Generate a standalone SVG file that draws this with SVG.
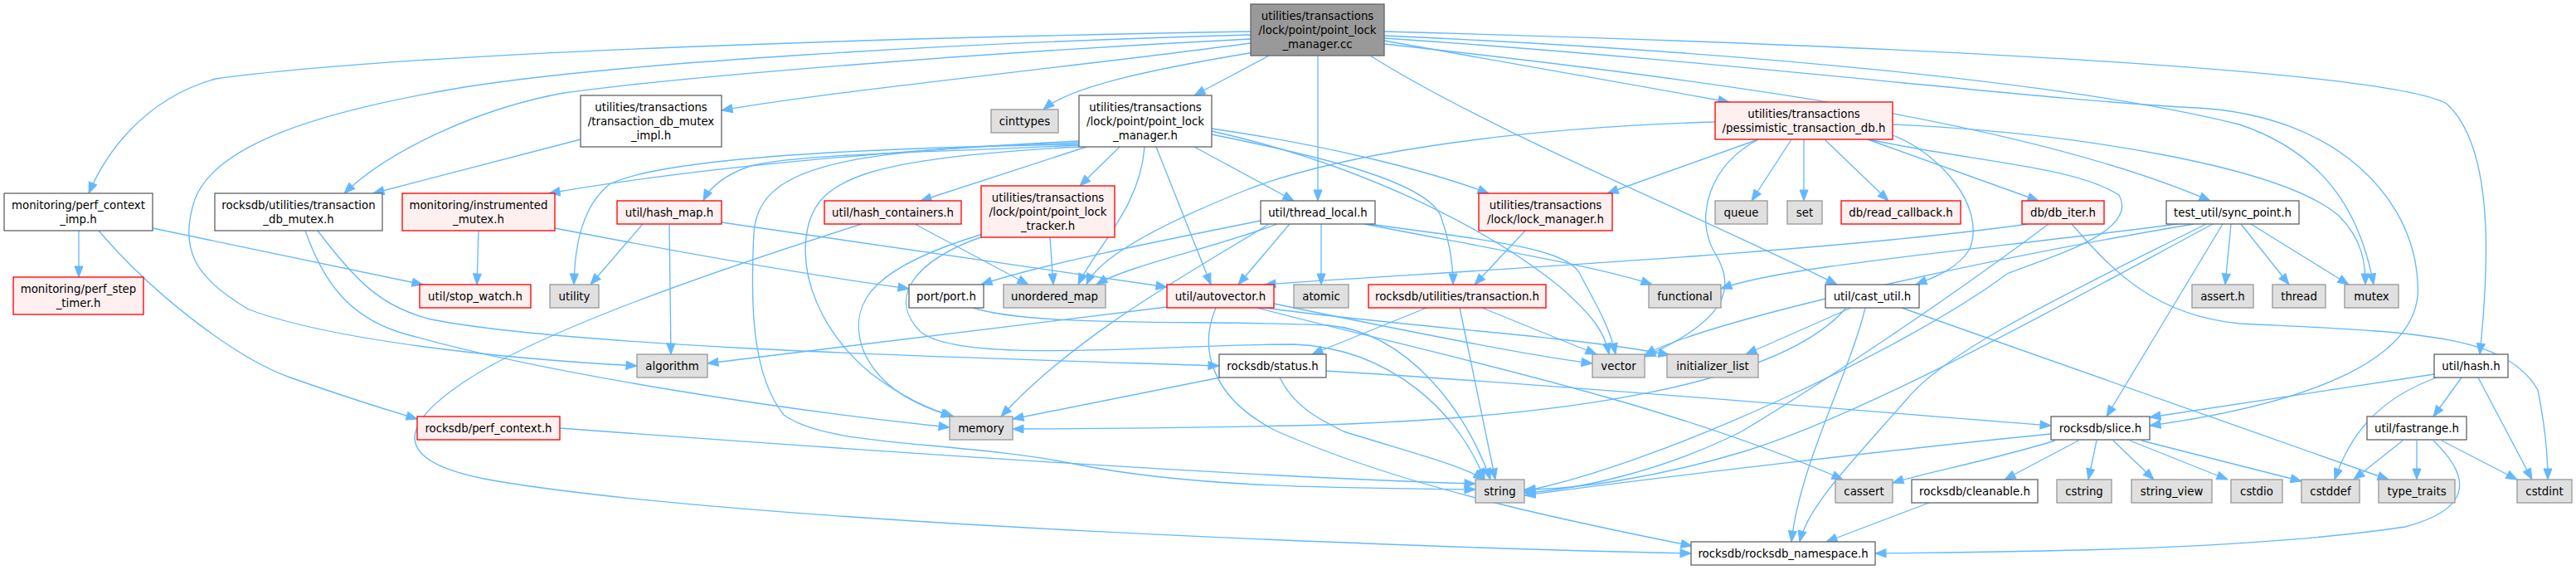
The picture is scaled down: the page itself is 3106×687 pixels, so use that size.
<svg xmlns="http://www.w3.org/2000/svg" width="3106" height="687" viewBox="0 0 3106 687">
<style>
text{font-family:"DejaVu Sans","Liberation Sans",sans-serif;font-size:13.33px;text-anchor:middle;fill:#000}
.w rect{fill:#fff;stroke:#666;stroke-width:1.33}
.r rect{fill:#FFF0F0;stroke:#F00;stroke-width:1.33}
.g rect{fill:#E0E0E0;stroke:#999;stroke-width:1.33}
.m rect{fill:#999;stroke:#666;stroke-width:1.33}
#edges path{fill:none;stroke:#63B8FF;stroke-width:1.33;marker-end:url(#a)}
</style>
<defs>
<marker id="a" markerUnits="userSpaceOnUse" markerWidth="15" markerHeight="12" refX="13" refY="5" orient="auto" overflow="visible">
<path d="M0,0 L13,5 L0,10 z" fill="#63B8FF" stroke="#63B8FF" stroke-width="1"/>
</marker>
</defs>
<rect x="0" y="0" width="3106" height="687" fill="#fff"/>
<g id="edges">
<path d="M1508,38 C1100,45 500,62 260,95 C170,120 125,190 107,233"/>
<path d="M1508,47 C1150,65 800,95 680,112 C580,130 470,180 415,233"/>
<path d="M1508,42 C1150,52 750,75 560,105 C380,135 260,175 235,240 C215,300 235,335 300,373 C400,410 600,432 768,441"/>
<path d="M1508,52 C1300,80 1000,110 870,133"/>
<path d="M1512,63 C1380,85 1290,105 1258,132"/>
<path d="M1530,67 L1440,115"/>
<path d="M1589,67 L1589,242"/>
<path d="M1652,67 C1800,160 2050,260 2215,343"/>
<path d="M1669,49 L2085,123"/>
<path d="M1669,53 C2100,100 2450,150 2665,242"/>
<path d="M1669,38 C2300,55 2880,85 2950,125 C3010,180 3000,330 2990,427"/>
<path d="M1669,43 C2100,62 2500,100 2700,150 C2820,190 2850,280 2862,343"/>
<path d="M1669,46 C2100,75 2450,120 2650,130 C2820,140 2910,240 2915,340 C2925,440 2760,490 2592,513"/>
<path d="M1301,170 C1100,180 850,200 662,233"/>
<path d="M1301,175 C1150,183 960,185 905,200 C870,212 855,228 848,242"/>
<path d="M1301,174 C1050,178 800,190 735,222 C700,250 693,300 692,343"/>
<path d="M1310,177 L1110,242"/>
<path d="M1350,177 L1302,224"/>
<path d="M1301,177 C1050,190 990,215 975,270 C960,330 990,400 1050,450 C1090,480 1120,493 1150,502"/>
<path d="M1301,172 C1000,180 915,205 909,280 C905,360 905,450 945,500 C1000,540 1150,530 1300,560 C1450,590 1650,588 1779,590"/>
<path d="M1380,177 C1375,250 1320,300 1300,343"/>
<path d="M1394,177 L1460,343"/>
<path d="M1440,177 L1560,242"/>
<path d="M1461,162 C1600,190 1720,220 1737,260 C1748,290 1752,320 1752,343"/>
<path d="M1461,155 C1600,175 1720,205 1795,233"/>
<path d="M1461,158 C1650,200 1800,280 1880,345 C1920,380 1935,400 1940,427"/>
<path d="M2120,168 L1938,233"/>
<path d="M2160,168 L2112,242"/>
<path d="M2175,168 L2175,242"/>
<path d="M2200,168 L2277,242"/>
<path d="M2252,168 L2458,242"/>
<path d="M2068,147 C1800,155 1600,190 1500,230 C1400,270 1325,310 1310,343"/>
<path d="M2253,168 C2380,195 2500,200 2555,235 C2580,280 2470,310 2420,330 C2300,420 2000,560 1838,592"/>
<path d="M2120,168 C2060,200 2045,260 2065,300 C2090,340 2095,380 1983,430"/>
<path d="M2282,163 C2340,185 2395,250 2375,300 C2360,325 2330,335 2310,343"/>
<path d="M2282,150 C2500,160 2750,200 2820,260 C2850,290 2852,320 2852,343"/>
<path d="M1520,266 C1400,290 1250,320 1183,343"/>
<path d="M1540,270 C1460,300 1360,320 1322,343"/>
<path d="M1555,270 L1493,343"/>
<path d="M1593,270 L1593,343"/>
<path d="M1645,270 C1800,300 1930,322 1992,343"/>
<path d="M1650,270 C1800,290 1890,300 1905,330 C1920,360 1940,390 1948,427"/>
<path d="M1530,270 C1450,320 1300,400 1207,502"/>
<path d="M807,270 L809,427"/>
<path d="M775,270 L712,343"/>
<path d="M870,268 L1407,346"/>
<path d="M1103,270 L1240,343"/>
<path d="M1039,270 C850,330 650,400 560,460 C470,520 480,560 600,580 C900,630 1700,660 2039,667"/>
<path d="M1185,282 C1060,320 1020,360 1040,420 C1060,470 1110,490 1148,502"/>
<path d="M1185,285 C1100,315 1070,360 1110,400 C1160,440 1400,415 1560,415 C1680,420 1760,500 1790,578"/>
<path d="M1266,286 L1270,343"/>
<path d="M95,278 L95,334"/>
<path d="M184,275 L510,343"/>
<path d="M119,278 C180,350 280,430 350,455 C420,480 470,495 503,505"/>
<path d="M368,278 C390,340 420,380 480,400 C650,450 950,495 1145,515"/>
<path d="M383,278 C430,340 460,370 520,385 C700,420 1200,432 1470,441"/>
<path d="M577,278 L575,343"/>
<path d="M669,275 C850,310 1000,335 1096,348"/>
<path d="M700,168 L450,233"/>
<path d="M1839,278 L1778,343"/>
<path d="M1720,371 L1582,427"/>
<path d="M1760,371 L1803,578"/>
<path d="M1787,371 L1925,427"/>
<path d="M1471,455 L1221,505"/>
<path d="M1543,455 C1560,490 1590,505 1620,520 C1700,545 1760,560 1790,578"/>
<path d="M1599,447 C1900,465 2300,500 2473,513"/>
<path d="M1407,370 C1200,395 1000,420 853,438"/>
<path d="M1516,371 C1700,420 2000,480 2222,578"/>
<path d="M1525,371 C1700,395 1900,405 2013,428"/>
<path d="M1536,366 C1700,400 1850,430 1920,438"/>
<path d="M1466,371 C1445,420 1460,480 1540,520 C1700,590 1900,630 2040,658"/>
<path d="M2226,371 C2150,460 1900,505 1560,513 C1400,516 1300,517 1221,517"/>
<path d="M2232,371 L2105,427"/>
<path d="M2293,371 L2880,578"/>
<path d="M2249,371 C2230,450 2170,560 2160,653"/>
<path d="M1173,371 C1250,395 1450,385 1600,392 C1700,400 1770,500 1797,578"/>
<path d="M2473,523 C2300,540 2000,575 1838,597"/>
<path d="M2478,531 C2400,555 2320,570 2282,582"/>
<path d="M2506,531 L2417,578"/>
<path d="M2528,531 L2518,578"/>
<path d="M2548,531 L2597,578"/>
<path d="M2568,531 L2686,578"/>
<path d="M2582,531 L2775,580"/>
<path d="M2326,606 L2202,653"/>
<path d="M2935,451 L2592,503"/>
<path d="M2938,455 C2870,480 2835,520 2815,578"/>
<path d="M2968,455 L2934,502"/>
<path d="M2988,455 L3053,578"/>
<path d="M2897,531 L2838,578"/>
<path d="M2914,531 L2914,578"/>
<path d="M2944,531 L3035,578"/>
<path d="M2934,531 C2985,580 2975,615 2900,635 C2700,665 2400,665 2261,667"/>
<path d="M2445,270 C2200,305 1700,330 1525,343"/>
<path d="M2470,270 C2350,360 2200,460 2100,520 C2000,570 1900,590 1838,594"/>
<path d="M2498,270 C2550,330 2600,380 2700,390 C2900,400 3020,400 3060,470 C3070,520 3072,550 3072,578"/>
<path d="M2633,269 C2400,300 2150,320 2075,348"/>
<path d="M2645,270 C2350,320 2050,390 1983,428"/>
<path d="M2668,270 C2500,360 2250,500 2100,545 C2000,575 1900,590 1838,590"/>
<path d="M2680,270 L2540,502"/>
<path d="M2690,270 L2683,343"/>
<path d="M2702,270 L2760,343"/>
<path d="M2714,270 L2832,343"/>
<path d="M2660,270 C2500,350 2350,420 2300,480 C2230,560 2180,610 2170,653"/>
<path d="M675,516 C1000,540 1500,575 1779,583"/>
</g>
<g id="n_main" class="m"><rect x="1508" y="5" width="161" height="62"/><text x="1588.5" y="23.8">utilities/transactions</text><text x="1588.5" y="40.8">/lock/point/point_lock</text><text x="1588.5" y="57.8">_manager.cc</text></g>
<g id="n_tdmi" class="w"><rect x="700" y="115" width="170" height="62"/><text x="785" y="133.8">utilities/transactions</text><text x="785" y="150.8">/transaction_db_mutex</text><text x="785" y="167.8">_impl.h</text></g>
<g id="n_cinttypes" class="g"><rect x="1195" y="132" width="81" height="28"/><text x="1235.5" y="150.8">cinttypes</text></g>
<g id="n_plm" class="w"><rect x="1301" y="115" width="160" height="62"/><text x="1381" y="133.8">utilities/transactions</text><text x="1381" y="150.8">/lock/point/point_lock</text><text x="1381" y="167.8">_manager.h</text></g>
<g id="n_ptd" class="r"><rect x="2068" y="123" width="214" height="45"/><text x="2175" y="141.8">utilities/transactions</text><text x="2175" y="158.8">/pessimistic_transaction_db.h</text></g>
<g id="n_pci" class="w"><rect x="5" y="233" width="179" height="45"/><text x="94.5" y="251.8">monitoring/perf_context</text><text x="94.5" y="268.8">_imp.h</text></g>
<g id="n_tdm" class="w"><rect x="259" y="233" width="202" height="45"/><text x="360" y="251.8">rocksdb/utilities/transaction</text><text x="360" y="268.8">_db_mutex.h</text></g>
<g id="n_imx" class="r"><rect x="485" y="233" width="184" height="45"/><text x="577" y="251.8">monitoring/instrumented</text><text x="577" y="268.8">_mutex.h</text></g>
<g id="n_hmap" class="r"><rect x="744" y="242" width="126" height="28"/><text x="807" y="260.8">util/hash_map.h</text></g>
<g id="n_hcont" class="r"><rect x="994" y="242" width="165" height="28"/><text x="1076.5" y="260.8">util/hash_containers.h</text></g>
<g id="n_plt" class="r"><rect x="1183" y="224" width="161" height="62"/><text x="1263.5" y="242.8">utilities/transactions</text><text x="1263.5" y="259.8">/lock/point/point_lock</text><text x="1263.5" y="276.8">_tracker.h</text></g>
<g id="n_tl" class="w"><rect x="1520" y="242" width="138" height="28"/><text x="1589" y="260.8">util/thread_local.h</text></g>
<g id="n_lm" class="r"><rect x="1783" y="233" width="161" height="45"/><text x="1863.5" y="251.8">utilities/transactions</text><text x="1863.5" y="268.8">/lock/lock_manager.h</text></g>
<g id="n_queue" class="g"><rect x="2068" y="242" width="63" height="28"/><text x="2099.5" y="260.8">queue</text></g>
<g id="n_set" class="g"><rect x="2155" y="242" width="42" height="28"/><text x="2176" y="260.8">set</text></g>
<g id="n_rcb" class="r"><rect x="2220" y="242" width="144" height="28"/><text x="2292" y="260.8">db/read_callback.h</text></g>
<g id="n_dbi" class="r"><rect x="2438" y="242" width="99" height="28"/><text x="2487.5" y="260.8">db/db_iter.h</text></g>
<g id="n_sp" class="w"><rect x="2612" y="242" width="160" height="28"/><text x="2692" y="260.8">test_util/sync_point.h</text></g>
<g id="n_pst" class="r"><rect x="16" y="334" width="157" height="45"/><text x="94.5" y="352.8">monitoring/perf_step</text><text x="94.5" y="369.8">_timer.h</text></g>
<g id="n_sw" class="r"><rect x="506" y="343" width="134" height="28"/><text x="573" y="361.8">util/stop_watch.h</text></g>
<g id="n_utility" class="g"><rect x="663" y="343" width="59" height="28"/><text x="692.5" y="361.8">utility</text></g>
<g id="n_port" class="w"><rect x="1096" y="343" width="90" height="28"/><text x="1141" y="361.8">port/port.h</text></g>
<g id="n_umap" class="g"><rect x="1210" y="343" width="123" height="28"/><text x="1271.5" y="361.8">unordered_map</text></g>
<g id="n_av" class="r"><rect x="1407" y="343" width="129" height="28"/><text x="1471.5" y="361.8">util/autovector.h</text></g>
<g id="n_atomic" class="g"><rect x="1560" y="343" width="66" height="28"/><text x="1593" y="361.8">atomic</text></g>
<g id="n_txn" class="r"><rect x="1650" y="343" width="214" height="28"/><text x="1757" y="361.8">rocksdb/utilities/transaction.h</text></g>
<g id="n_functional" class="g"><rect x="1988" y="343" width="87" height="28"/><text x="2031.5" y="361.8">functional</text></g>
<g id="n_cu" class="w"><rect x="2201" y="343" width="113" height="28"/><text x="2257.5" y="361.8">util/cast_util.h</text></g>
<g id="n_asserth" class="g"><rect x="2643" y="343" width="74" height="28"/><text x="2680" y="361.8">assert.h</text></g>
<g id="n_thread" class="g"><rect x="2740" y="343" width="64" height="28"/><text x="2772" y="361.8">thread</text></g>
<g id="n_mutex" class="g"><rect x="2827" y="343" width="65" height="28"/><text x="2859.5" y="361.8">mutex</text></g>
<g id="n_algorithm" class="g"><rect x="768" y="427" width="85" height="28"/><text x="810.5" y="445.8">algorithm</text></g>
<g id="n_status" class="w"><rect x="1470" y="427" width="129" height="28"/><text x="1534.5" y="445.8">rocksdb/status.h</text></g>
<g id="n_vector" class="g"><rect x="1920" y="427" width="63" height="28"/><text x="1951.5" y="445.8">vector</text></g>
<g id="n_il" class="g"><rect x="2010" y="427" width="110" height="28"/><text x="2065" y="445.8">initializer_list</text></g>
<g id="n_hash" class="w"><rect x="2935" y="427" width="89" height="28"/><text x="2979.5" y="445.8">util/hash.h</text></g>
<g id="n_pc" class="r"><rect x="503" y="502" width="172" height="28"/><text x="589" y="520.8">rocksdb/perf_context.h</text></g>
<g id="n_memory" class="g"><rect x="1145" y="502" width="76" height="28"/><text x="1183" y="520.8">memory</text></g>
<g id="n_slice" class="w"><rect x="2473" y="502" width="119" height="28"/><text x="2532.5" y="520.8">rocksdb/slice.h</text></g>
<g id="n_fr" class="w"><rect x="2854" y="502" width="120" height="28"/><text x="2914" y="520.8">util/fastrange.h</text></g>
<g id="n_string" class="g"><rect x="1779" y="578" width="59" height="28"/><text x="1808.5" y="596.8">string</text></g>
<g id="n_cassert" class="g"><rect x="2213" y="578" width="69" height="28"/><text x="2247.5" y="596.8">cassert</text></g>
<g id="n_cleanable" class="w"><rect x="2305" y="578" width="152" height="28"/><text x="2381" y="596.8">rocksdb/cleanable.h</text></g>
<g id="n_cstring" class="g"><rect x="2480" y="578" width="66" height="28"/><text x="2513" y="596.8">cstring</text></g>
<g id="n_sv" class="g"><rect x="2570" y="578" width="97" height="28"/><text x="2618.5" y="596.8">string_view</text></g>
<g id="n_cstdio" class="g"><rect x="2690" y="578" width="62" height="28"/><text x="2721" y="596.8">cstdio</text></g>
<g id="n_cstddef" class="g"><rect x="2775" y="578" width="70" height="28"/><text x="2810" y="596.8">cstddef</text></g>
<g id="n_tt" class="g"><rect x="2868" y="578" width="92" height="28"/><text x="2914" y="596.8">type_traits</text></g>
<g id="n_cstdint" class="g"><rect x="3035" y="578" width="66" height="28"/><text x="3068" y="596.8">cstdint</text></g>
<g id="n_ns" class="w"><rect x="2039" y="653" width="222" height="28"/><text x="2150" y="671.8">rocksdb/rocksdb_namespace.h</text></g>
</svg>
